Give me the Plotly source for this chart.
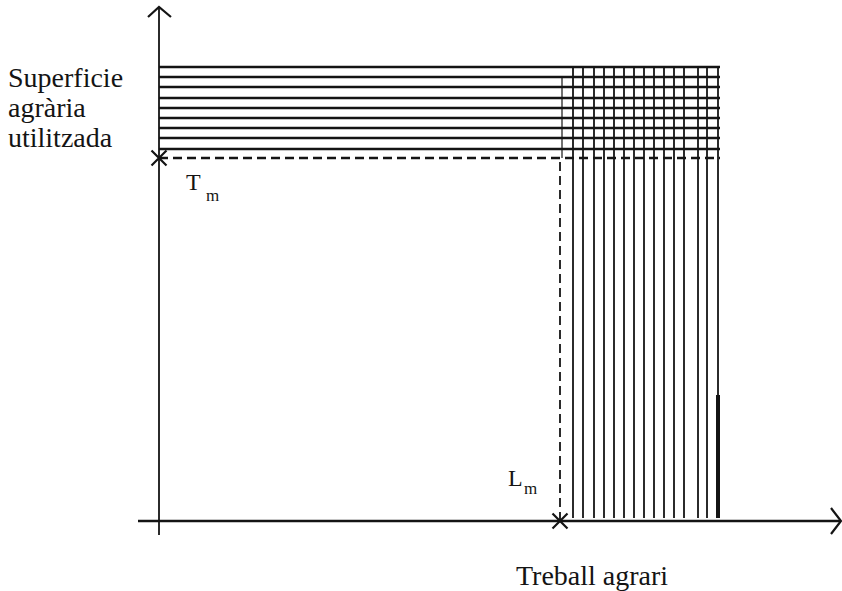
import plotly.graph_objects as go

# ---- data (chart units: origin at the axes' crossing) ----
T_m = 363            # height of the dashed horizontal (minimum land)
L_m = 401            # position of the dashed vertical (minimum labour)
land_levels = [454, 444, 434, 423, 413, 403, 393, 383, 372]          # hatched horizontals
labour_levels = [414, 424, 435, 445, 455, 465, 475, 485, 495, 505,
                 515, 525, 539, 548, 559]                             # hatched verticals
grid_right = 561
grid_top = 454
grid_bottom = 3
thick_top = 126      # upper end of the thickened last vertical
x_axis_end = 682
y_axis_end = 514
y_label_lines = ["Superficie", "agrària", "utilitzada"]
x_label = "Treball agrari"

ink = "#141414"
fig = go.Figure()

# horizontal hatching
hx, hy = [], []
for lv in land_levels:
    hx += [0, grid_right, None]
    hy += [lv, lv, None]
fig.add_trace(go.Scatter(x=hx, y=hy, mode="lines",
                         line=dict(color=ink, width=2.6), hoverinfo="skip"))

# vertical hatching
vx, vy = [], []
for lv in labour_levels:
    vx += [lv, lv, None]
    vy += [grid_bottom, grid_top, None]
fig.add_trace(go.Scatter(x=vx, y=vy, mode="lines",
                         line=dict(color=ink, width=1.8), hoverinfo="skip"))
# thin continuation above the dashed vertical
fig.add_trace(go.Scatter(x=[L_m + 2, L_m + 2], y=[T_m, grid_top - 10], mode="lines",
                         line=dict(color=ink, width=1.2), hoverinfo="skip"))
# thickened lower part of the last vertical
fig.add_trace(go.Scatter(x=[labour_levels[-1], labour_levels[-1]], y=[grid_bottom, thick_top],
                         mode="lines", line=dict(color=ink, width=4), hoverinfo="skip"))

# dashed limits
fig.add_trace(go.Scatter(x=[0, grid_right], y=[T_m, T_m], mode="lines",
                         line=dict(color=ink, width=2.6, dash="9px,5px"), hoverinfo="skip"))
fig.add_trace(go.Scatter(x=[L_m, L_m], y=[0, T_m], mode="lines",
                         line=dict(color=ink, width=1.8, dash="9px,5px"), hoverinfo="skip"))

# axes
fig.add_trace(go.Scatter(x=[-21, x_axis_end], y=[0, 0], mode="lines",
                         line=dict(color=ink, width=2.6), hoverinfo="skip"))
fig.add_trace(go.Scatter(x=[0, 0], y=[-14, y_axis_end], mode="lines",
                         line=dict(color=ink, width=1.8), hoverinfo="skip"))
# arrow heads
fig.add_trace(go.Scatter(x=[x_axis_end - 10, x_axis_end, x_axis_end - 10], y=[13, 0, -13],
                         mode="lines", line=dict(color=ink, width=2.2), hoverinfo="skip"))
fig.add_trace(go.Scatter(x=[-11, 0, 12], y=[y_axis_end - 10, y_axis_end, y_axis_end - 10],
                         mode="lines", line=dict(color=ink, width=2.2), hoverinfo="skip"))

# crosses at T_m and L_m
fig.add_trace(go.Scatter(x=[0, L_m], y=[T_m, 0], mode="markers",
                         marker=dict(symbol="x-thin", size=15,
                                     line=dict(color=ink, width=2.2)),
                         hoverinfo="skip"))

font = "Liberation Serif, Times New Roman, serif"
annotations = []
for i, line in enumerate(y_label_lines):
    annotations.append(dict(x=-153, y=444 - 30 * i, xref="x", yref="y", text=line,
                            showarrow=False, xanchor="left", yanchor="middle",
                            font=dict(family=font, size=28, color=ink)))
annotations += [
    dict(x=25, y=354, xref="x", yref="y", text="T", showarrow=False,
         xanchor="left", yanchor="top", font=dict(family=font, size=24, color=ink)),
    dict(x=45, y=337, xref="x", yref="y", text="m", showarrow=False,
         xanchor="left", yanchor="top", font=dict(family=font, size=17, color=ink)),
    dict(x=347, y=58, xref="x", yref="y", text="L", showarrow=False,
         xanchor="left", yanchor="top", font=dict(family=font, size=24, color=ink)),
    dict(x=363, y=44, xref="x", yref="y", text="m", showarrow=False,
         xanchor="left", yanchor="top", font=dict(family=font, size=17, color=ink)),
    dict(x=433, y=-54, xref="x", yref="y", text=x_label, showarrow=False,
         xanchor="center", yanchor="middle", font=dict(family=font, size=28, color=ink)),
]

fig.update_layout(
    width=842, height=591,
    margin=dict(l=0, r=0, t=0, b=0),
    paper_bgcolor="white", plot_bgcolor="white",
    showlegend=False,
    xaxis=dict(range=[-159, 683], visible=False, fixedrange=True),
    yaxis=dict(range=[-70, 521], visible=False, fixedrange=True),
    annotations=annotations,
)

fig.write_html("out.html",
               config={"displayModeBar": False, "staticPlot": True},
               post_script="document.body.style.margin='0';document.body.style.overflow='hidden';")
